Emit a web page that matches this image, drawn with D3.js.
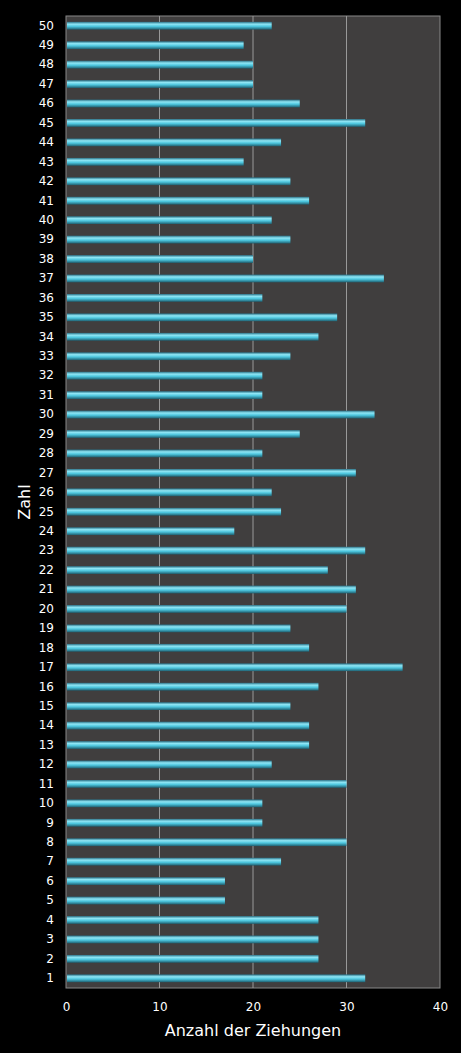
<!DOCTYPE html><html><head><script src="https://cdn.jsdelivr.net/npm/d3@7"></script>
<style>body{margin:0;background:#000}</style></head><body><svg id="c" width="461" height="1053"></svg>
<script>
const numbers = d3.range(1,51);
const counts = [32,27,27,27,17,17,23,30,21,21,30,22,26,26,24,27,36,26,24,30,31,28,32,18,23,22,31,21,25,33,21,21,24,27,29,21,34,20,24,22,26,24,19,23,32,25,20,20,19,22];
const xTicks = [0,10,20,30,40];
const svg = d3.select("#c");
const m = {l:66,r:440,t:16,b:988};
const x = d3.scaleLinear().domain([0,40]).range([m.l,m.r]);
const y = d3.scaleBand().domain(numbers.slice().reverse()).range([m.t,m.b]).paddingInner(0.6).paddingOuter(0.3);
const defs = svg.append("defs");
const g = defs.append("linearGradient").attr("id","bg").attr("x1",0).attr("y1",0).attr("x2",0).attr("y2",1);
[[0,"#2a6f84"],[0.3,"#8fe6f5"],[0.6,"#4cc5dd"],[1,"#1e5f70"]].forEach(s=>g.append("stop").attr("offset",s[0]).attr("stop-color",s[1]));
svg.append("rect").attr("x",m.l).attr("y",m.t).attr("width",m.r-m.l).attr("height",m.b-m.t).attr("fill","#403e3e").attr("stroke","#888");
xTicks.slice(1,-1).forEach(t=>svg.append("line").attr("x1",x(t)).attr("x2",x(t)).attr("y1",m.t).attr("y2",m.b).attr("stroke","#999").attr("stroke-width",1));
svg.selectAll(".b").data(numbers).enter().append("rect").attr("x",x(0)+1).attr("y",d=>y(d)).attr("height",y.bandwidth())
 .attr("width",(d,i)=>x(counts[i])-x(0)-1).attr("fill","url(#bg)");
const xa = svg.append("g").attr("transform",`translate(0,${m.b})`).call(d3.axisBottom(x).tickValues(xTicks).tickSize(0).tickPadding(14));
const ya = svg.append("g").attr("transform",`translate(${m.l},0)`).call(d3.axisLeft(y).tickSize(0).tickPadding(12));
[xa,ya].forEach(a=>{a.select(".domain").remove();a.selectAll("text").attr("fill","#fff").style("font-family","DejaVu Sans").style("font-size","12px");});
svg.append("text").attr("x",253).attr("y",1036).attr("text-anchor","middle").attr("fill","#fff").style("font-family","DejaVu Sans").style("font-size","16px").text("Anzahl der Ziehungen");
svg.append("text").attr("transform","translate(30,502) rotate(-90)").attr("text-anchor","middle").attr("fill","#fff").style("font-family","DejaVu Sans").style("font-size","16px").text("Zahl");
</script></body></html>
